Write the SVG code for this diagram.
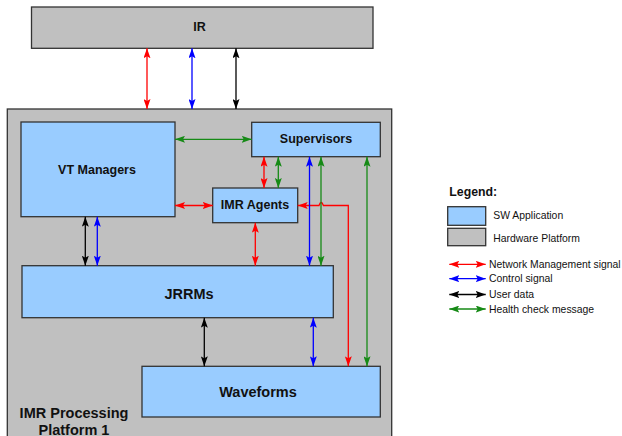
<svg xmlns="http://www.w3.org/2000/svg" width="622" height="436" viewBox="0 0 622 436">
<style>
.hw{fill:#c0c0c0;stroke:#333;stroke-width:1.3}
.sw{fill:#99ccff;stroke:#333;stroke-width:1.3}
.lb{font-family:"Liberation Sans",Arial,sans-serif;font-weight:bold;fill:#111;text-anchor:middle}
.lg{font-family:"Liberation Sans",Arial,sans-serif;font-size:10.4px;fill:#111}
.c{fill:none;stroke-width:1.3}
.r{stroke:#ff0000;marker-start:url(#mr);marker-end:url(#mr)}
.b{stroke:#0000ff;marker-start:url(#mb);marker-end:url(#mb)}
.k{stroke:#000;marker-start:url(#mk);marker-end:url(#mk)}
.g{stroke:#168a16;marker-start:url(#mg);marker-end:url(#mg)}
</style>
<defs>
<marker id="mr" viewBox="0 0 10 7" refX="10" refY="3.5" markerWidth="10" markerHeight="7" markerUnits="userSpaceOnUse" orient="auto-start-reverse"><path d="M0,0 L10,3.5 L0,7 L2,3.5 z" fill="#ff0000"/></marker>
<marker id="mb" viewBox="0 0 10 7" refX="10" refY="3.5" markerWidth="10" markerHeight="7" markerUnits="userSpaceOnUse" orient="auto-start-reverse"><path d="M0,0 L10,3.5 L0,7 L2,3.5 z" fill="#0000ff"/></marker>
<marker id="mk" viewBox="0 0 10 7" refX="10" refY="3.5" markerWidth="10" markerHeight="7" markerUnits="userSpaceOnUse" orient="auto-start-reverse"><path d="M0,0 L10,3.5 L0,7 L2,3.5 z" fill="#000"/></marker>
<marker id="mg" viewBox="0 0 10 7" refX="10" refY="3.5" markerWidth="10" markerHeight="7" markerUnits="userSpaceOnUse" orient="auto-start-reverse"><path d="M0,0 L10,3.5 L0,7 L2,3.5 z" fill="#168a16"/></marker>
</defs>
<rect width="622" height="436" fill="#fff"/>
<g id="ir">
<rect class="hw" x="31.5" y="7" width="341.5" height="41.3"/>
<text class="lb" x="199.5" y="31.3" font-size="12.5">IR</text>
</g>
<g id="platform">
<rect class="hw" x="7.3" y="109" width="384.4" height="340"/>
<text class="lb" x="74" y="417.5" font-size="14.5">IMR Processing</text>
<text class="lb" x="74" y="435" font-size="14.5">Platform 1</text>
</g>
<g id="vt-managers">
<rect class="sw" x="21" y="122" width="154" height="94.7"/>
<text class="lb" x="97" y="174" font-size="12.5">VT Managers</text>
</g>
<g id="supervisors">
<rect class="sw" x="251.7" y="122.3" width="128.6" height="34.4"/>
<text class="lb" x="316" y="142.5" font-size="12.5">Supervisors</text>
</g>
<g id="imr-agents">
<rect class="sw" x="212.7" y="188" width="85" height="34.7"/>
<text class="lb" x="255" y="209" font-size="12.5">IMR Agents</text>
</g>
<g id="jrrms">
<rect class="sw" x="22" y="265.7" width="311.3" height="52"/>
<text class="lb" x="189" y="299" font-size="14.5">JRRMs</text>
</g>
<g id="waveforms">
<rect class="sw" x="142" y="366.3" width="238.3" height="50.7"/>
<text class="lb" x="258" y="397" font-size="14.5">Waveforms</text>
</g>
<g id="connectors">
<line class="c r" x1="147" y1="48.3" x2="147" y2="109"/>
<line class="c b" x1="192" y1="48.3" x2="192" y2="109"/>
<line class="c k" x1="236" y1="48.3" x2="236" y2="109"/>
<line class="c g" x1="175" y1="139.3" x2="251.7" y2="139.3"/>
<line class="c r" x1="175" y1="205.5" x2="212.7" y2="205.5"/>
<line class="c r" x1="264" y1="156.7" x2="264" y2="188"/>
<line class="c g" x1="278.3" y1="156.7" x2="278.3" y2="188"/>
<path class="c r" d="M297.7,205.5 H319 Q321.2,199.5 323.4,205.5 H348.3 V366.3"/>
<line class="c b" x1="309.5" y1="156.7" x2="309.5" y2="265.7"/>
<line class="c g" x1="321" y1="156.7" x2="321" y2="265.7"/>
<line class="c g" x1="367" y1="156.7" x2="367" y2="366.3"/>
<line class="c r" x1="255.3" y1="222.7" x2="255.3" y2="265.7"/>
<line class="c k" x1="85.3" y1="216.7" x2="85.3" y2="265.7"/>
<line class="c b" x1="97.3" y1="216.7" x2="97.3" y2="265.7"/>
<line class="c k" x1="204.3" y1="317.7" x2="204.3" y2="366.3"/>
<line class="c b" x1="313.3" y1="317.7" x2="313.3" y2="366.3"/>
</g>
<g id="legend">
<text class="lb" x="449.3" y="195.5" font-size="12.3" style="text-anchor:start">Legend:</text>
<rect class="sw" x="447.7" y="206.7" width="38" height="18.6"/>
<rect class="hw" x="447.7" y="228.3" width="38" height="17.4"/>
<text class="lg" x="493.3" y="219">SW Application</text>
<text class="lg" x="493.3" y="241.5">Hardware Platform</text>
<line class="c r" x1="449.3" y1="264.3" x2="485.7" y2="264.3"/>
<line class="c b" x1="449.3" y1="278.7" x2="485.7" y2="278.7"/>
<line class="c k" x1="449.3" y1="294.5" x2="485.7" y2="294.5"/>
<line class="c g" x1="449.3" y1="309" x2="485.7" y2="309"/>
<text class="lg" x="489" y="268">Network Management signal</text>
<text class="lg" x="489" y="282.4">Control signal</text>
<text class="lg" x="489" y="298.2">User data</text>
<text class="lg" x="489" y="312.7">Health check message</text>
</g>
</svg>
